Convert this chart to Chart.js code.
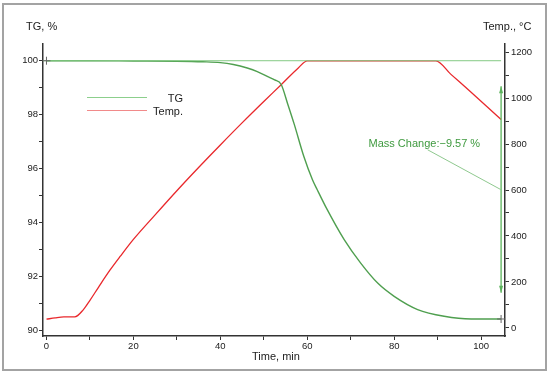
<!DOCTYPE html>
<html>
<head>
<meta charset="utf-8">
<script src="https://cdn.jsdelivr.net/npm/chart.js@4"></script>
<style>
  body { margin: 0; background: #fff; }
  canvas { display: block; }
</style>
</head>
<body>
<canvas id="tga" width="550" height="375"></canvas>
<script>
// TG curve (time in min, mass in %)
const tgTime = [0, 10, 20, 30, 36, 40, 43, 46.2, 48.5, 50.8, 52.5, 54, 55.5, 57, 59.2, 61.2, 62.3, 64.6, 68.5, 72.3, 76.2, 80, 85.4, 91.5, 97.7, 104.6];
const tgValues = [100, 100, 99.99, 99.98, 99.96, 99.93, 99.86, 99.73, 99.6, 99.42, 99.29, 99.12, 98.4, 97.65, 96.46, 95.59, 95.22, 94.48, 93.37, 92.5, 91.76, 91.27, 90.78, 90.53, 90.43, 90.43];

// furnace temperature (time in min, °C)
const tempTime = [0, 2, 4, 6.5, 8.5, 10, 12, 14.6, 17, 20, 25, 30, 35, 40, 45, 50, 54, 58, 60, 70, 80, 89.6, 93, 97, 101, 104.6];
const tempValues = [38, 44, 48, 48, 80, 120, 178, 251, 312, 385, 492, 597, 698, 796, 892, 985, 1058, 1132, 1162, 1162, 1162, 1162, 1104, 1037, 969, 907];

const timeTicks = [0, 10, 20, 30, 40, 50, 60, 70, 80, 90, 100];
const tgTicks = [90, 91, 92, 93, 94, 95, 96, 97, 98, 99, 100];
const tempTicks = [0, 100, 200, 300, 400, 500, 600, 700, 800, 900, 1000, 1100, 1200];

const massChange = -9.57;
const stepTime = 104.6;
const stepTop = 99.05, stepBottom = 91.4;

const font = 'Liberation Sans, Arial, sans-serif';
const green = '#4f9f4f';
const red = '#e9282c';

const pts = (xs, ys) => xs.map((x, i) => ({ x: x, y: ys[i] }));

const decor = {
  id: 'decor',
  beforeDraw(chart) {
    const c = chart.ctx;
    c.save();
    c.fillStyle = '#fff';
    c.fillRect(0, 0, chart.width, chart.height);
    c.strokeStyle = '#a3a3a3';
    c.lineWidth = 2;
    c.strokeRect(3, 4, 543, 366);
    c.restore();
  },
  afterDatasetsDraw(chart) {
    const c = chart.ctx;
    const x = chart.scales.x, y = chart.scales.y;
    const px = v => x.getPixelForValue(v), py = v => y.getPixelForValue(v);
    c.save();

    // 100 % baseline
    c.strokeStyle = '#85c985';
    c.lineWidth = 1;
    c.beginPath();
    c.moveTo(chart.chartArea.left, py(100));
    c.lineTo(px(stepTime), py(100));
    c.stroke();

    // start / end markers
    c.strokeStyle = '#666';
    [[0, 100], [tgTime[tgTime.length - 1], tgValues[tgValues.length - 1]]].forEach(p => {
      const X = px(p[0]), Y = py(p[1]);
      c.beginPath();
      c.moveTo(X - 4, Y); c.lineTo(X + 4, Y);
      c.moveTo(X, Y - 4); c.lineTo(X, Y + 4);
      c.stroke();
    });

    // mass change arrow
    const ax = px(stepTime), at = py(stepTop), ab = py(stepBottom);
    c.strokeStyle = '#5cb35c';
    c.fillStyle = '#5cb35c';
    c.lineWidth = 1.3;
    c.beginPath();
    c.moveTo(ax, at); c.lineTo(ax, ab);
    c.stroke();
    c.beginPath();
    c.moveTo(ax, at); c.lineTo(ax - 2, at + 7); c.lineTo(ax + 2, at + 7); c.closePath();
    c.moveTo(ax, ab); c.lineTo(ax - 2, ab - 7); c.lineTo(ax + 2, ab - 7); c.closePath();
    c.fill();

    // leader line + label
    c.strokeStyle = '#8fc98f';
    c.lineWidth = 1;
    c.beginPath();
    c.moveTo(px(87.7), py(96.7));
    c.lineTo(ax, py(95.22));
    c.stroke();
    c.fillStyle = '#3f9a3f';
    c.font = '11px ' + font;
    c.textBaseline = 'alphabetic';
    c.textAlign = 'left';
    c.fillText('Mass Change:\u2212' + Math.abs(massChange).toFixed(2) + ' %', px(74.1), py(96.81));

    // legend
    const legendCols = ['#8ccf8c', '#f18a8a'];
    chart.data.datasets.forEach((ds, i) => {
      const ly = 97.5 + i * 13;
      c.strokeStyle = legendCols[i];
      c.lineWidth = 1.2;
      c.beginPath();
      c.moveTo(87, ly); c.lineTo(147, ly);
      c.stroke();
      c.fillStyle = '#222';
      c.textAlign = 'right';
      c.textBaseline = 'middle';
      c.fillText(ds.label, 183, ly + 1);
    });

    // axis titles
    c.fillStyle = '#222';
    c.textAlign = 'left';
    c.textBaseline = 'middle';
    c.fillText('TG, %', 26, 27);
    c.fillText('Temp., \u00b0C', 483, 27);
    c.fillText('Time, min', 252, 357);
    c.restore();
  }
};

const axisCommon = {
  grid: { drawOnChartArea: false, tickLength: 4, color: '#333', lineWidth: 1 },
  border: { color: '#333', width: 1.5 }
};

new Chart(document.getElementById('tga').getContext('2d'), {
  type: 'line',
  data: {
    datasets: [{
      label: 'TG',
      data: pts(tgTime, tgValues),
      borderColor: green,
      borderWidth: 1.4,
      pointRadius: 0,
      cubicInterpolationMode: 'monotone',
      yAxisID: 'y'
    }, {
      label: 'Temp.',
      data: pts(tempTime, tempValues),
      borderColor: red,
      borderWidth: 1.3,
      pointRadius: 0,
      cubicInterpolationMode: 'monotone',
      yAxisID: 'y1'
    }]
  },
  options: {
    responsive: false,
    animation: false,
    devicePixelRatio: 1,
    layout: { padding: { top: 44, left: 0, right: 0, bottom: 0 } },
    plugins: { legend: { display: false }, tooltip: { enabled: false } },
    scales: {
      x: {
        type: 'linear',
        position: 'bottom',
        min: -0.8,
        max: 105.5,
        afterBuildTicks: s => { s.ticks = timeTicks.map(v => ({ value: v })); },
        afterFit: s => { s.height = 39; },
        ticks: {
          callback: v => (v % 20 === 0 ? v : ''),
          font: { family: font, size: 9.5 },
          color: '#222',
          padding: 1,
          maxRotation: 0,
          autoSkip: false
        },
        ...axisCommon
      },
      y: {
        type: 'linear',
        position: 'left',
        min: 89.8,
        max: 100.62,
        afterBuildTicks: s => { s.ticks = tgTicks.map(v => ({ value: v })); },
        afterFit: s => { s.width = 43; },
        ticks: {
          callback: v => (v % 2 === 0 ? v : ''),
          font: { family: font, size: 9.5 },
          color: '#222',
          padding: 1,
          autoSkip: false
        },
        ...axisCommon
      },
      y1: {
        type: 'linear',
        position: 'right',
        min: -35,
        max: 1235,
        afterBuildTicks: s => { s.ticks = tempTicks.map(v => ({ value: v })); },
        afterFit: s => { s.width = 45; },
        ticks: {
          callback: v => (v % 200 === 0 ? v : ''),
          font: { family: font, size: 9.5 },
          color: '#222',
          padding: 2,
          autoSkip: false
        },
        ...axisCommon
      }
    }
  },
  plugins: [decor]
});
</script>
</body>
</html>
